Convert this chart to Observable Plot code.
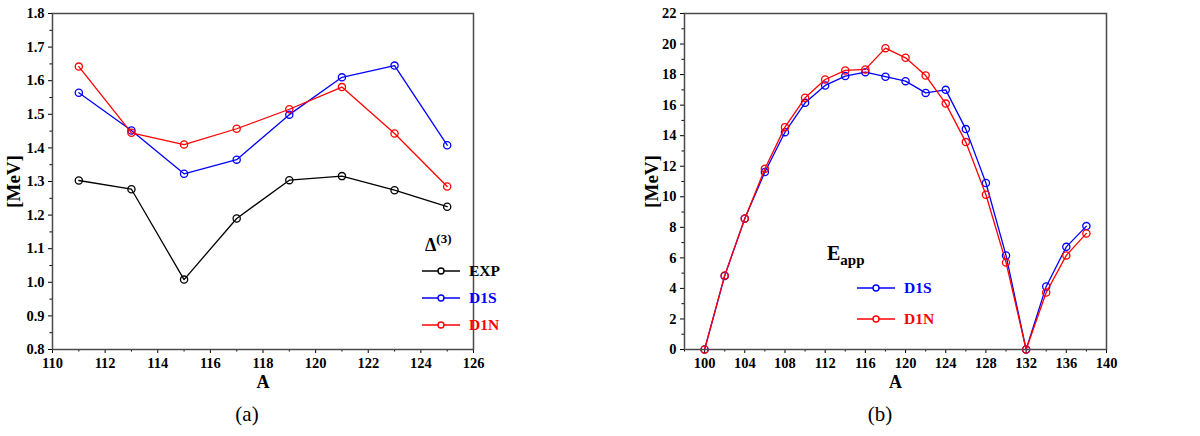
<!DOCTYPE html>
<html>
<head>
<meta charset="utf-8">
<script src="https://cdn.jsdelivr.net/npm/d3@7"></script>
<script src="https://cdn.jsdelivr.net/npm/@observablehq/plot@0.6"></script>
<style>
  body { margin: 0; background: #fff; }
  #wrap { position: relative; width: 1200px; height: 436px; overflow: hidden; font-family: "Liberation Serif", "Times New Roman", serif; }
  .panel { position: absolute; top: 0; }
  .panel svg { overflow: visible; }
  .panel svg, .panel svg text { font-family: "Liberation Serif", "Times New Roman", serif !important; font-weight: bold !important; }
  .panel svg text { font-size: 14.5px; }
  .panel svg g[aria-label="x-axis label"] text { font-size: 18px; }
  .panel svg g[aria-label="y-axis label"] text { font-size: 19px; }
  .caption { position: absolute; font-size: 21px; transform: translateX(-50%); }
  .lg { position: absolute; font-weight: bold; white-space: nowrap; }
  .row { position: absolute; display: flex; align-items: center; height: 16px; }
  .row span { font-size: 15.5px; margin-left: 9px; }
</style>
</head>
<body>
<div id="wrap"></div>
<script>
// ---------- data: panel (a) ----------
const A_a = [111, 113, 115, 117, 119, 121, 123, 125];
const EXP_a = [1.303, 1.277, 1.008, 1.190, 1.304, 1.316, 1.274, 1.225];
const D1S_a = [1.564, 1.452, 1.323, 1.365, 1.499, 1.610, 1.645, 1.408];
const D1N_a = [1.642, 1.445, 1.410, 1.457, 1.515, 1.581, 1.443, 1.285];
const xTicks_a = [110, 112, 114, 116, 118, 120, 122, 124, 126];
const xMinor_a = [111, 113, 115, 117, 119, 121, 123, 125];
const yTicks_a = [0.8, 0.9, 1.0, 1.1, 1.2, 1.3, 1.4, 1.5, 1.6, 1.7, 1.8];
const yMinor_a = [0.85, 0.95, 1.05, 1.15, 1.25, 1.35, 1.45, 1.55, 1.65, 1.75];

// ---------- data: panel (b) ----------
const A_b = [100, 102, 104, 106, 108, 110, 112, 114, 116, 118, 120, 122, 124, 126, 128, 130, 132, 134, 136, 138];
const D1S_b = [0, 4.82, 8.58, 11.62, 14.23, 16.15, 17.29, 17.90, 18.16, 17.86, 17.57, 16.80, 17.00, 14.43, 10.90, 6.16, 0, 4.13, 6.72, 8.08];
const D1N_b = [0, 4.85, 8.56, 11.83, 14.56, 16.48, 17.68, 18.27, 18.34, 19.73, 19.10, 17.94, 16.10, 13.58, 10.13, 5.70, 0, 3.73, 6.16, 7.60];
const xTicks_b = [100, 104, 108, 112, 116, 120, 124, 128, 132, 136, 140];
const xMinor_b = [98, 102, 106, 110, 114, 118, 122, 126, 130, 134, 138];
const yTicks_b = [0, 2, 4, 6, 8, 10, 12, 14, 16, 18, 20, 22];
const yMinor_b = [1, 3, 5, 7, 9, 11, 13, 15, 17, 19, 21];

const seriesNames_a = ["EXP", "D1S", "D1N"];
const seriesNames_b = ["D1S", "D1N"];
const colors = {EXP: "#000000", D1S: "#0000ff", D1N: "#ff0000"};

const rows_a = [];
A_a.forEach((a, i) => {
  rows_a.push({A: a, v: EXP_a[i], s: "EXP"});
  rows_a.push({A: a, v: D1S_a[i], s: "D1S"});
  rows_a.push({A: a, v: D1N_a[i], s: "D1N"});
});
const rows_b = [];
A_b.forEach((a, i) => {
  rows_b.push({A: a, v: D1S_b[i], s: "D1S"});
  rows_b.push({A: a, v: D1N_b[i], s: "D1N"});
});

function seriesMarks(rows, names) {
  const m = [];
  for (const s of names) {
    const d = rows.filter(r => r.s === s);
    m.push(Plot.line(d, {x: "A", y: "v", stroke: colors[s], strokeWidth: 1.3}));
    m.push(Plot.dot(d, {x: "A", y: "v", stroke: colors[s], r: 3.6, strokeWidth: 1.3, fill: "none"}));
  }
  return m;
}

const plotA = Plot.plot({
  width: 600, height: 395,
  marginLeft: 52, marginRight: 127, marginTop: 13, marginBottom: 46,
  x: {domain: [110, 126]},
  y: {domain: [0.8, 1.8]},
  marks: [
    Plot.axisX({ticks: xTicks_a, tickSize: 4, tickPadding: 4, tickFormat: d => String(d), label: "A", labelAnchor: "center", labelArrow: "none", labelOffset: 38}),
    Plot.axisX({ticks: xMinor_a, tickSize: 2.5, text: null, label: null}),
    Plot.axisY({ticks: yTicks_a, tickSize: 4, tickPadding: 4, tickFormat: d3.format(".1f"), label: "[MeV]", labelAnchor: "center", labelArrow: "none", labelOffset: 46}),
    Plot.axisY({ticks: yMinor_a, tickSize: 2.5, text: null, label: null}),
    ...seriesMarks(rows_a, seriesNames_a),
    Plot.frame({stroke: "#4a4a4a", strokeWidth: 1.5})
  ]
});

const plotB = Plot.plot({
  width: 600, height: 395,
  marginLeft: 84, marginRight: 94, marginTop: 13, marginBottom: 46,
  x: {domain: [98, 140]},
  y: {domain: [0, 22]},
  marks: [
    Plot.axisX({ticks: xTicks_b, tickSize: 4, tickPadding: 4, tickFormat: d => String(d), label: "A", labelAnchor: "center", labelArrow: "none", labelOffset: 38}),
    Plot.axisX({ticks: xMinor_b, tickSize: 2.5, text: null, label: null}),
    Plot.axisY({ticks: yTicks_b, tickSize: 4, tickPadding: 4, tickFormat: d => String(d), label: "[MeV]", labelAnchor: "center", labelArrow: "none", labelOffset: 40}),
    Plot.axisY({ticks: yMinor_b, tickSize: 2.5, text: null, label: null}),
    ...seriesMarks(rows_b, seriesNames_b),
    Plot.frame({stroke: "#4a4a4a", strokeWidth: 1.5})
  ]
});

const wrap = document.getElementById("wrap");
const pa = document.createElement("div"); pa.className = "panel"; pa.style.left = "0px"; pa.appendChild(plotA); wrap.appendChild(pa);
const pb = document.createElement("div"); pb.className = "panel"; pb.style.left = "600px"; pb.appendChild(plotB); wrap.appendChild(pb);

// ---------- legends ----------
function symbol(color) {
  return `<svg width="38" height="16" style="overflow:visible"><line x1="0" x2="38" y1="8" y2="8" stroke="${color}" stroke-width="1.5"/><circle cx="19" cy="8" r="3" fill="white" stroke="${color}" stroke-width="1.4"/></svg>`;
}
function legend(title, names, left, firstY, step, titleLeft, titleTop) {
  const t = document.createElement("div");
  t.className = "lg";
  t.style.left = titleLeft + "px"; t.style.top = titleTop + "px";
  t.innerHTML = title;
  wrap.appendChild(t);
  names.forEach((n, i) => {
    const r = document.createElement("div");
    r.className = "row lg";
    r.style.left = left + "px";
    r.style.top = (firstY + i * step - 8) + "px";
    r.innerHTML = symbol(colors[n]) + `<span style="color:${colors[n]}">${n}</span>`;
    wrap.appendChild(r);
  });
}
legend(`<span style="font-size:18px">Δ</span><sup style="font-size:13px;position:relative;top:-2px">(3)</sup>`, seriesNames_a, 422, 270.7, 27.2, 425, 233);
legend(`<span style="font-size:20px">E</span><sub style="font-size:15px;position:relative;top:1px">app</sub>`, seriesNames_b, 857, 288.3, 31, 827, 242);

// ---------- captions ----------
[["(a)", 247], ["(b)", 880]].forEach(([t, x]) => {
  const c = document.createElement("div");
  c.className = "caption"; c.textContent = t;
  c.style.left = x + "px"; c.style.top = "402px";
  wrap.appendChild(c);
});
</script>
</body>
</html>
